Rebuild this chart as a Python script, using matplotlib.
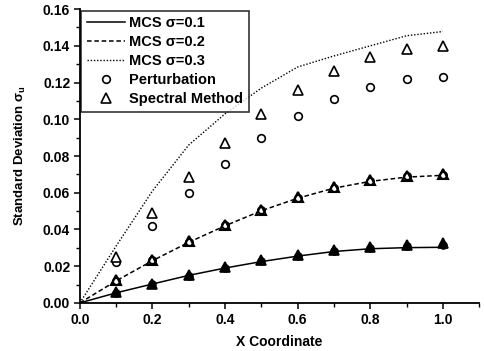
import numpy as np
import matplotlib
matplotlib.use('Agg')
matplotlib.rcParams['font.family'] = ['Liberation Sans', 'DejaVu Sans']
import matplotlib.pyplot as plt
from matplotlib.ticker import MultipleLocator, FormatStrFormatter

# MCS lines
x_line = [0.0, 0.1, 0.2, 0.3, 0.4, 0.5, 0.6, 0.7, 0.8, 0.9, 1.0]
mcs_01 = [0.0, 0.0055, 0.0103, 0.0150, 0.0190, 0.0225, 0.0255, 0.0280, 0.0295, 0.0301, 0.0303]
mcs_02 = [0.0, 0.0120, 0.0230, 0.0330, 0.0420, 0.0502, 0.0570, 0.0625, 0.0662, 0.0685, 0.0695]
mcs_03 = [0.0, 0.0310, 0.0610, 0.0860, 0.1030, 0.1170, 0.1285, 0.1345, 0.1400, 0.1455, 0.1478]

# markers
x_pts = [0.1, 0.2, 0.3, 0.4, 0.5, 0.6, 0.7, 0.8, 0.9, 1.0]
pert_01 = [0.0054, 0.0101, 0.0149, 0.0190, 0.0228, 0.0258, 0.0285, 0.0300, 0.0310, 0.0318]
spec_01 = [0.0058, 0.0105, 0.0153, 0.0194, 0.0232, 0.0263, 0.0290, 0.0305, 0.0316, 0.0324]
pert_02 = [0.0121, 0.0232, 0.0332, 0.0422, 0.0504, 0.0573, 0.0628, 0.0664, 0.0689, 0.0698]
spec_02 = [0.0124, 0.0235, 0.0336, 0.0426, 0.0508, 0.0577, 0.0632, 0.0668, 0.0693, 0.0702]
pert_03 = [0.0225, 0.0420, 0.0597, 0.0757, 0.0900, 0.1018, 0.1108, 0.1174, 0.1217, 0.1228]
spec_03 = [0.0249, 0.0488, 0.0684, 0.0872, 0.1030, 0.1159, 0.1263, 0.1337, 0.1382, 0.1400]

fig = plt.figure(figsize=(4.84, 3.51), dpi=100)
ax = fig.add_axes([0.165, 0.137, 0.825, 0.837])

ax.plot(x_line, mcs_01, color='black', lw=1.1, label='MCS \u03c3=0.1')
ax.plot(x_line, mcs_02, color='black', lw=1.1, linestyle=(0, (3, 1.8)), label='MCS \u03c3=0.2')
ax.plot(x_line, mcs_03, color='black', lw=1.0, linestyle=(0, (1, 1.3)), label='MCS \u03c3=0.3')

mk = dict(linestyle='none', markerfacecolor='white', markeredgecolor='black', markeredgewidth=1.2)
ax.plot(x_pts, pert_03, marker='o', markersize=5.5, label='Perturbation', **mk)
ax.plot(x_pts, spec_03, marker='^', markersize=6.5, label='Spectral Method', **mk)

# sigma 0.1 / 0.2 markers overlap and look nearly solid
ax.plot(x_pts, pert_02, marker='o', markersize=5, linestyle='none',
        markerfacecolor='white', markeredgecolor='black', markeredgewidth=1.5)
ax.plot(x_pts, spec_02, marker='^', markersize=6.5, linestyle='none',
        markerfacecolor='none', markeredgecolor='black', markeredgewidth=1.5)
ax.plot(x_pts, pert_01, marker='o', markersize=5, linestyle='none',
        markerfacecolor='black', markeredgecolor='black', markeredgewidth=1.2)
ax.plot(x_pts, spec_01, marker='^', markersize=6.5, linestyle='none',
        markerfacecolor='black', markeredgecolor='black', markeredgewidth=1.2)

ax.set_xlim(0, 1.1)
ax.set_ylim(0, 0.16)
ax.spines['top'].set_visible(False)
ax.spines['right'].set_visible(False)
ax.spines['left'].set_linewidth(1.3)
ax.spines['bottom'].set_linewidth(1.3)

ax.xaxis.set_major_locator(MultipleLocator(0.2))
ax.xaxis.set_minor_locator(MultipleLocator(0.1))
ax.yaxis.set_major_locator(MultipleLocator(0.02))
ax.yaxis.set_minor_locator(MultipleLocator(0.01))
ax.xaxis.set_major_formatter(FormatStrFormatter('%.1f'))
ax.yaxis.set_major_formatter(FormatStrFormatter('%.2f'))
ax.tick_params(which='major', direction='out', length=4, width=1.1, labelsize=10, pad=3)
ax.tick_params(which='minor', direction='out', length=3, width=1.0)
for lbl in ax.get_xticklabels() + ax.get_yticklabels():
    lbl.set_fontweight('bold')

ax.set_xlabel('X Coordinate', fontsize=10, fontweight='bold', labelpad=6)
ax.set_ylabel('Standard Deviation \u03c3$_\\mathregular{u}$', fontsize=9.5, fontweight='bold', labelpad=11)

leg = ax.legend(loc='upper left', bbox_to_anchor=(0.0, 1.0), frameon=True,
                fancybox=False, edgecolor='black', handlelength=2.6, handletextpad=0.3,
                labelspacing=0.33, borderpad=0.4, borderaxespad=0.1,
                prop={'weight': 'bold', 'size': 10.5})
leg.get_frame().set_linewidth(1.2)

fig.savefig('out.png', dpi=100, facecolor='white')
